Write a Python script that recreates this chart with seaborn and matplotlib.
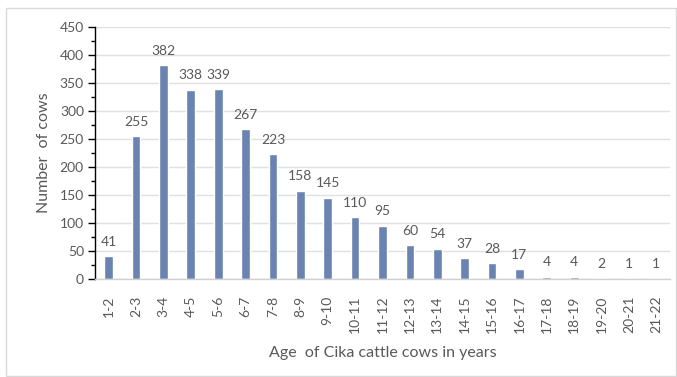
import matplotlib
matplotlib.use("Agg")
import matplotlib.pyplot as plt
from matplotlib.patches import Rectangle
from matplotlib.ticker import MultipleLocator
import seaborn as sns
import pandas as pd

age_groups = ["1-2", "2-3", "3-4", "4-5", "5-6", "6-7", "7-8", "8-9", "9-10",
              "10-11", "11-12", "12-13", "13-14", "14-15", "15-16", "16-17",
              "17-18", "18-19", "19-20", "20-21", "21-22"]
cow_counts = [41, 255, 382, 338, 339, 267, 223, 158, 145, 110, 95, 60, 54,
              37, 28, 17, 4, 4, 2, 1, 1]

df = pd.DataFrame({"age": age_groups, "cows": cow_counts})

sns.set_theme(style="white")
plt.rcParams["font.family"] = ["Lato", "DejaVu Sans"]

text_color = "#595959"
bar_color = "#6b83b1"
grid_color = "#e0e0e0"

fig = plt.figure(figsize=(6.77, 3.77), dpi=100)
ax = fig.add_axes([95 / 677, 1 - 279 / 377, 575 / 677, 252 / 377])

sns.barplot(data=df, x="age", y="cows", color=bar_color, width=0.32,
            saturation=1, ax=ax)

ax.set_ylim(0, 450)
ax.set_xlim(-0.5, len(age_groups) - 0.5)
ax.yaxis.set_major_locator(MultipleLocator(50))
ax.yaxis.set_minor_locator(MultipleLocator(25))
ax.set_axisbelow(True)
ax.grid(axis="y", which="major", color=grid_color, linewidth=1)

for side in ["top", "right"]:
    ax.spines[side].set_visible(False)
ax.spines["left"].set_color("black")
ax.spines["left"].set_linewidth(1)
ax.spines["bottom"].set_color("#d0d0d0")
ax.spines["bottom"].set_linewidth(1)

ax.tick_params(axis="y", which="major", left=True, length=5, width=1,
               color="black", labelsize=10, labelcolor=text_color, pad=3)
ax.tick_params(axis="y", which="minor", left=True, length=3, width=1,
               color="black")
ax.tick_params(axis="x", bottom=False, labelsize=10, labelcolor=text_color,
               labelrotation=90, pad=6)

ax.bar_label(ax.containers[0], labels=[str(v) for v in cow_counts],
             padding=6, fontsize=10, color=text_color)

ax.set_ylabel("Number  of cows", fontsize=11.5, color=text_color, labelpad=6)
ax.set_xlabel("Age  of Cika cattle cows in years", fontsize=11.5,
              color=text_color, labelpad=9)

# light frame around the chart area
fig.patches.append(Rectangle((6 / 677, 1 - 376 / 377), 670 / 677, 368 / 377,
                             transform=fig.transFigure, fill=False,
                             edgecolor="#d9d9d9", linewidth=1))

fig.savefig("out.png", dpi=100)
